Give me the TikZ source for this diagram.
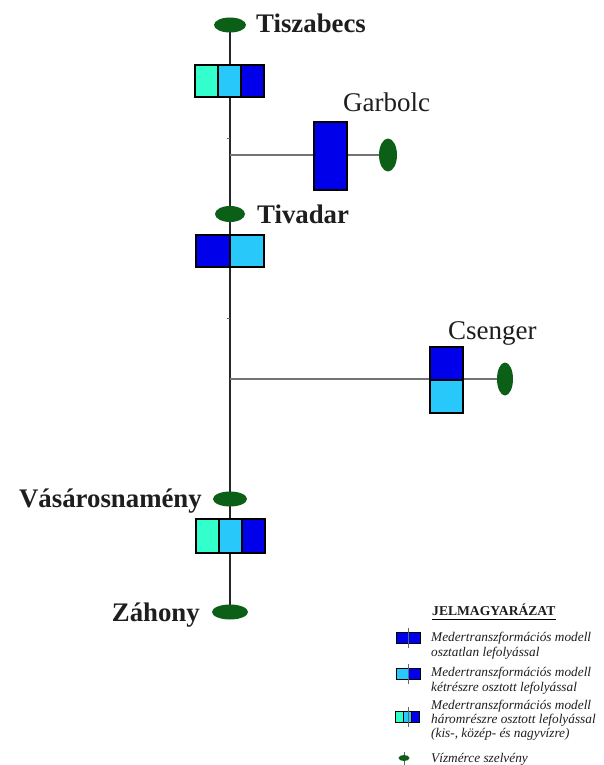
\documentclass[tikz,border=0pt]{standalone}
\usepackage{fontspec}
\setmainfont{Liberation Serif}
\usetikzlibrary{shapes.geometric,backgrounds,calc}
\definecolor{aquac}{RGB}{51,255,204}
\definecolor{lbluec}{RGB}{40,200,250}
\definecolor{dbluec}{RGB}{0,0,235}
\definecolor{gaugec}{RGB}{12,95,22}
\definecolor{txtc}{RGB}{30,30,30}
\definecolor{branchc}{RGB}{115,115,115}
\begin{document}
\begin{tikzpicture}[x=1pt,y=-1pt,
  cellbox/.style={draw=black,line width=1.2pt,inner sep=0pt,outer sep=0pt},
  gaugeell/.style={ellipse,fill=gaugec,inner sep=0pt,outer sep=0pt},
  bigbold/.style={font=\fontsize{26.8}{28}\selectfont\bfseries,text=txtc,inner sep=0pt},
  bigreg/.style={font=\fontsize{27}{28}\selectfont,text=txtc,inner sep=0pt},
  legtext/.style={font=\fontsize{13.3}{15}\selectfont\itshape,text=txtc,inner sep=0pt,anchor=base west},
  legicon/.style={draw=black,line width=0.5pt,inner sep=0pt,outer sep=0pt,minimum height=11pt},
  mainline/.style={draw=black!85,line width=1.2pt},
  branchline/.style={draw=branchc,line width=2pt},
  ticklin/.style={draw=black!60,line width=0.6pt}
]
\useasboundingbox (0,0) rectangle (604,765);

% gauges
\node[gaugeell,minimum width=32pt,minimum height=15pt] (tiszabecs) at (230,25) {};
\node[gaugeell,minimum width=30pt,minimum height=16pt] (tivadar) at (230,214) {};
\node[gaugeell,minimum width=34pt,minimum height=15pt] (vasaros) at (230,499) {};
\node[gaugeell,minimum width=36pt,minimum height=15pt] (zahony) at (230,612) {};
\node[gaugeell,minimum width=18pt,minimum height=33pt] (garbolc) at (388,155) {};
\node[gaugeell,minimum width=16pt,minimum height=33pt] (csenger) at (505,379) {};

% junctions
\coordinate (jg) at (230,155);
\coordinate (jc) at (230,379);

% boxes Tiszabecs
\node[cellbox,fill=aquac,minimum width=23pt,minimum height=32pt] (tA) at (206.5,81) {};
\node[cellbox,fill=lbluec,minimum width=23pt,minimum height=32pt] (tB) at (229.5,81) {};
\node[cellbox,fill=dbluec,minimum width=23pt,minimum height=32pt] (tC) at (252.5,81) {};
% Tivadar
\node[cellbox,fill=dbluec,minimum width=34pt,minimum height=32pt] (vA) at (213,251) {};
\node[cellbox,fill=lbluec,minimum width=34pt,minimum height=32pt] (vB) at (247,251) {};
% Garbolc
\node[cellbox,fill=dbluec,minimum width=33pt,minimum height=68pt] (gA) at (330.5,156) {};
% Csenger
\node[cellbox,fill=dbluec,minimum width=33pt,minimum height=33pt] (cA) at (446.5,363.5) {};
\node[cellbox,fill=lbluec,minimum width=33pt,minimum height=33pt] (cB) at (446.5,396.5) {};
% Vasarosnameny
\node[cellbox,fill=aquac,minimum width=23pt,minimum height=34pt] (nA) at (207.5,536) {};
\node[cellbox,fill=lbluec,minimum width=23pt,minimum height=34pt] (nB) at (230.5,536) {};
\node[cellbox,fill=dbluec,minimum width=23pt,minimum height=34pt] (nC) at (253.5,536) {};

\begin{pgfonlayer}{background}
  \fill[white] (0,0) rectangle (604,765);
  \draw[mainline] (tiszabecs.center) -- (zahony.center);
  \draw[branchline] (jg) -- (garbolc.center);
  \draw[branchline] (jc) -- (csenger.center);
  \draw[ticklin] (227,138) -- (230,138);
  \draw[ticklin] (227,318) -- (230,318);
\end{pgfonlayer}

% labels
\node[bigbold,anchor=base west] (lT) at (256,33) {Tiszabecs};
\node[bigbold,anchor=base west] (lV) at (257,223) {Tivadar};
\node[bigreg,anchor=base west] (lG) at (343,112) {Garbolc};
\node[bigreg,anchor=base west] (lC) at (448,339) {Csenger};
\node[bigbold,anchor=base east] (lN) at (202,507) {Vásárosnamény};
\node[bigbold,anchor=base east] (lZ) at (200,621) {Záhony};

% legend
\node[font=\fontsize{13.6}{15}\selectfont\bfseries,text=txtc,inner sep=0pt,anchor=base west] (legtitle) at (432,615) {JELMAGYARÁZAT};
\draw[black,line width=1pt] ($(legtitle.base west)+(0,4)$) -- ($(legtitle.base east)+(0,4)$);

\node[legicon,fill=dbluec,minimum width=24pt] (i1) at (408,637.5) {};
\draw[ticklin] ($(i1.north)+(0,-4)$) -- ($(i1.south)+(0,5)$);
\node[legtext] (t1a) at (431,641) {Medertranszformációs modell};
\node[legtext] (t1b) at (431,656) {osztatlan lefolyással};

\node[legicon,fill=lbluec,minimum width=12pt] (i2a) at (402,673.5) {};
\node[legicon,fill=dbluec,minimum width=12pt] (i2b) at (414,673.5) {};
\draw[ticklin] (408,664) -- (408,684);
\node[legtext] (t2a) at (431,676) {Medertranszformációs modell};
\node[legtext] (t2b) at (431,691) {kétrészre osztott lefolyással};

\node[legicon,fill=aquac,minimum width=8pt] (i3a) at (399,716.5) {};
\node[legicon,fill=lbluec,minimum width=8pt] (i3b) at (407,716.5) {};
\node[legicon,fill=dbluec,minimum width=8pt] (i3c) at (415,716.5) {};
\draw[ticklin] (408,707) -- (408,727);
\node[legtext] (t3a) at (431,709) {Medertranszformációs modell};
\node[legtext] (t3b) at (431,723) {háromrészre osztott lefolyással};
\node[legtext] (t3c) at (431,737) {(kis-, közép- és nagyvízre)};

\draw[ticklin] (404,752) -- (404,765);
\node[gaugeell,minimum width=11pt,minimum height=6pt] (i4) at (404,758) {};
\node[legtext] (t4) at (431,762) {Vízmérce szelvény};
\end{tikzpicture}
\end{document}
